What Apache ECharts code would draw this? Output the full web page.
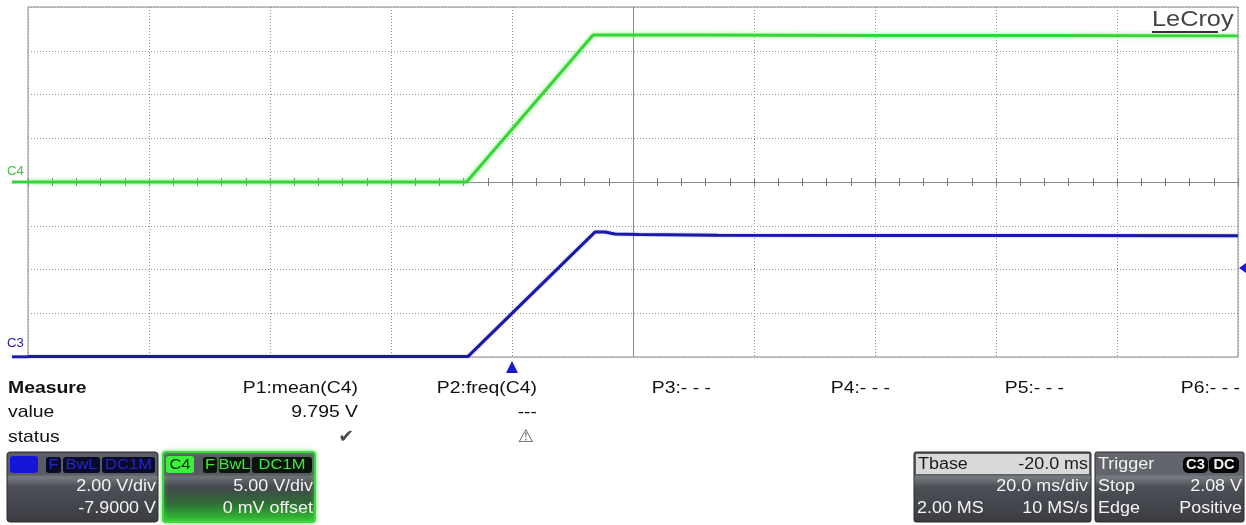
<!DOCTYPE html>
<html>
<head>
<meta charset="utf-8">
<script src="https://cdn.jsdelivr.net/npm/echarts@6/dist/echarts.min.js"></script>
<style>
html,body{margin:0;padding:0;background:#fff;}
#chart{width:1246px;height:525px;}
</style>
</head>
<body>
<div id="chart"></div>
<script>
// ---- data ----
// time in ms relative to the trigger point (20 ms/div, 10 divisions)
const c4Time  = [-80, -7.5, 13.4, 30, 60, 90, 120];
const c4Volts = [0.0, 0.0, 16.8, 16.8, 16.75, 16.75, 16.7];
const c3Time  = [-80, -7.3, 13.7, 15.4, 17.0, 21.0, 34.0, 60, 90, 120];
const c3Volts = [-0.08, -0.08, 5.61, 5.61, 5.52, 5.50, 5.47, 5.45, 5.45, 5.44];

const timeMin = -80, timeMax = 120, timeDiv = 20, timeMinorDiv = 4;
const c4Min = -20, c4Max = 20, c4Div = 5;          // 5.00 V/div, 0 mV offset
const c3Min = -0.1, c3Max = 15.9;                   // 2.00 V/div, -7.9 V offset
const centerTime = 20;

const measureRowLabels = ['Measure', 'value', 'status'];
const paramNames  = ['P1:mean(C4)', 'P2:freq(C4)', 'P3:- - -', 'P4:- - -', 'P5:- - -', 'P6:- - -'];
const paramValues = ['9.795 V', '---', '', '', '', ''];
const paramStatus = ['\u2714', '\u26A0', '', '', '', ''];

const c3Box = {badge: 'C3', flags: ['F', 'BwL', 'DC1M'], line1: '2.00 V/div', line2: '-7.9000 V'};
const c4Box = {badge: 'C4', flags: ['F', 'BwL', 'DC1M'], line1: '5.00 V/div', line2: '0 mV offset'};
const tbaseBox = {title: 'Tbase', titleVal: '-20.0 ms', r1l: '', r1r: '20.0 ms/div', r2l: '2.00 MS', r2r: '10 MS/s'};
const trigBox = {title: 'Trigger', badges: ['C3', 'DC'], r1l: 'Stop', r1r: '2.08 V', r2l: 'Edge', r2r: 'Positive'};

// ---- chart ----
const chart = echarts.init(document.getElementById('chart'), null, {renderer: 'canvas'});
const GRIDC = '#959595';
const SX = 1.14;
const FONT = '"Liberation Sans", Arial, sans-serif';

function pairs(xs, ys) { return xs.map((x, i) => [x, ys[i]]); }

const option = {
  animation: false,
  backgroundColor: '#ffffff',
  grid: {left: 28, top: 7, right: 8, bottom: 168, show: true, borderColor: '#8a8a8a', borderWidth: 1, backgroundColor: '#ffffff'},
  xAxis: [
    {type: 'value', min: timeMin, max: timeMax, interval: timeDiv, position: 'bottom',
     axisLine: {show: false}, axisTick: {show: false}, axisLabel: {show: false},
     splitLine: {show: true, lineStyle: {color: GRIDC, type: [1, 2], width: 1}}},
    {type: 'value', min: timeMin, max: timeMax, interval: timeMinorDiv, position: 'bottom',
     axisLine: {show: true, onZero: true, onZeroAxisIndex: 0, lineStyle: {color: '#8a8a8a', width: 1}},
     axisTick: {show: true, inside: true, length: 4, lineStyle: {color: '#7a7a7a'}},
     axisLabel: {show: false}, splitLine: {show: false}},
    {type: 'value', min: timeMin, max: timeMax, interval: timeMinorDiv, position: 'bottom',
     axisLine: {show: true, onZero: true, onZeroAxisIndex: 0, lineStyle: {color: '#8a8a8a', width: 1}},
     axisTick: {show: true, inside: false, length: 4, lineStyle: {color: '#7a7a7a'}},
     axisLabel: {show: false}, splitLine: {show: false}}
  ],
  yAxis: [
    {type: 'value', min: c4Min, max: c4Max, interval: c4Div,
     axisLine: {show: false}, axisTick: {show: false}, axisLabel: {show: false},
     splitLine: {show: true, lineStyle: {color: GRIDC, type: [1, 2], width: 1}}},
    {type: 'value', min: c3Min, max: c3Max, show: false, splitLine: {show: false}}
  ],
  series: [
    {name: 'C4', type: 'line', xAxisIndex: 0, yAxisIndex: 0, data: pairs(c4Time, c4Volts),
     symbol: 'none', clip: false, z: 5,
     lineStyle: {color: '#33d633', width: 3, shadowColor: 'rgba(120,240,120,0.9)', shadowBlur: 4},
     markLine: {silent: true, symbol: 'none', label: {show: false}, animation: false,
       lineStyle: {color: '#8a8a8a', type: 'solid', width: 1},
       data: [{xAxis: centerTime}]}},
    {name: 'C3', type: 'line', xAxisIndex: 0, yAxisIndex: 1, data: pairs(c3Time, c3Volts),
     symbol: 'none', clip: false, z: 5,
     lineStyle: {color: '#1a1aa6', width: 3, shadowColor: 'rgba(60,60,200,0.45)', shadowBlur: 2}}
  ]
};
chart.setOption(option);

// ---- helpers for graphic overlay ----
function txt(x, y, text, opts) {
  opts = opts || {};
  const align = opts.align || 'left';
  return {type: 'text', x: x, y: y, scaleX: opts.sx || SX, z: 100,
    style: {text: text, fill: opts.color || '#111', font: (opts.weight || 'normal') + ' ' + (opts.size || 17) + 'px ' + (opts.family || FONT),
      textAlign: align, align: align, textVerticalAlign: 'middle', verticalAlign: 'middle'}};
}
function rect(x, y, w, h, fill, opts) {
  opts = opts || {};
  return {type: 'rect', z: opts.z || 90, shape: {x: x, y: y, width: w, height: h, r: opts.r || 0},
    style: {fill: fill, stroke: opts.stroke || null, lineWidth: opts.lw || 0,
      shadowBlur: opts.shadowBlur || 0, shadowColor: opts.shadowColor || 'transparent'}};
}
function vgrad(stops) {
  return {type: 'linear', x: 0, y: 0, x2: 0, y2: 1, colorStops: stops.map(s => ({offset: s[0], color: s[1]}))};
}

const g = [];
// channel zero markers and trigger markers via scales
const yC4zero = chart.convertToPixel({yAxisIndex: 0}, 0);
const yC3zero = chart.convertToPixel({yAxisIndex: 1}, 0);
const xTrig = chart.convertToPixel({xAxisIndex: 0}, 0);
const gridBottom = chart.convertToPixel({yAxisIndex: 0}, c4Min);
const gridRight = chart.convertToPixel({xAxisIndex: 0}, timeMax);

g.push(txt(7, yC4zero - 10, 'C4', {color: '#3cc03c', size: 12, sx: 1.1}));
g.push(rect(12, yC4zero - 1.5, 16, 3, '#35d435'));
g.push(txt(7, yC3zero - 11, 'C3', {color: '#1c1cae', size: 12, sx: 1.1}));
g.push(rect(12, yC3zero + 0.5, 16, 3, '#1c1cae'));
g.push({type: 'polygon', z: 95, shape: {points: [[xTrig, gridBottom + 4], [xTrig - 6, gridBottom + 16], [xTrig + 6, gridBottom + 16]]}, style: {fill: '#1a1ad0'}});
g.push({type: 'polygon', z: 95, shape: {points: [[gridRight + 1, 268], [1246, 263], [1246, 273]]}, style: {fill: '#1a1ad0'}});

// LeCroy logo
g.push(txt(1152, 20, 'LeCroy', {color: '#444444', size: 22, sx: 1.15}));
g.push(rect(1152, 31, 66, 2, '#333333', {z: 101}));

// measurement table
const rowY = [388, 412, 437];
g.push(txt(8, rowY[0], measureRowLabels[0], {weight: 'bold', color: '#111'}));
g.push(txt(8, rowY[1], measureRowLabels[1], {color: '#111'}));
g.push(txt(8, rowY[2], measureRowLabels[2], {color: '#111'}));
const colRight = [358, 537, 711, 890, 1064, 1240];
paramNames.forEach((n, i) => {
  g.push(txt(colRight[i], rowY[0], n, {align: 'right', color: '#111'}));
  if (paramValues[i]) g.push(txt(colRight[i], rowY[1], paramValues[i], {align: 'right', color: '#111'}));
});
g.push(txt(354, rowY[2], paramStatus[0], {align: 'right', color: '#4a4a4a', size: 18, family: '"DejaVu Sans"', sx: 1.05}));
g.push(txt(534, rowY[2], paramStatus[1], {align: 'right', color: '#555', size: 18, family: '"DejaVu Sans"', sx: 1.0}));

// channel boxes
function channelBox(x, w, box, isC4) {
  const y = 452, h = 70;
  const bodyFill = isC4
    ? vgrad([[0, '#56595f'], [0.32, '#56595f'], [0.36, '#6d7076'], [0.5, '#44474e'], [0.72, '#2f6a35'], [1, '#33cc33']])
    : vgrad([[0, '#5a5d64'], [0.32, '#5a5d64'], [0.36, '#777a81'], [0.5, '#4c4f56'], [1, '#3a3c42']]);
  g.push(rect(x, y, w, h, bodyFill, {r: 3, stroke: isC4 ? '#3fd63f' : '#2a2a2a', lw: isC4 ? 2 : 1,
    shadowBlur: isC4 ? 4 : 0, shadowColor: isC4 ? 'rgba(80,230,80,0.8)' : 'transparent'}));
  const badgeFill = isC4 ? '#3df03d' : '#1515dd';
  const badgeText = isC4 ? '#0b2a0b' : '#1a1ac0';
  const flagText = isC4 ? '#3ee83e' : '#2424c8';
  const flagFill = isC4 ? '#0a140a' : '#0a0a2a';
  g.push(rect(x + 3, y + 4, 28, 17, badgeFill, {r: 3, z: 92}));
  g.push(txt(x + 17, y + 12.5, box.badge, {align: 'center', color: badgeText, size: 15, sx: 1.1}));
  const flagX = isC4 ? [x + 40, x + 56, x + 89] : [x + 39, x + 56, x + 95];
  const flagW = isC4 ? [14, 31, 60] : [15, 37, 53];
  box.flags.forEach((f, i) => {
    g.push(rect(flagX[i], y + 5, flagW[i], 16, flagFill, {r: 3, z: 92}));
    g.push(txt(flagX[i] + flagW[i] / 2, y + 13, f, {align: 'center', color: flagText, size: 15, sx: 1.1}));
  });
  g.push(txt(x + w - 2, 487, box.line1, {align: 'right', color: '#f4f4f4', size: 16, sx: 1.12}));
  g.push(txt(x + w - 2, 509, box.line2, {align: 'right', color: '#f4f4f4', size: 16, sx: 1.12}));
}
channelBox(7, 151, c3Box, false);
channelBox(163, 152, c4Box, true);

// timebase box
(function () {
  const x = 914, y = 452, w = 177, h = 70;
  g.push(rect(x, y, w, h, vgrad([[0, '#5a5d64'], [0.32, '#5a5d64'], [0.36, '#777a81'], [0.5, '#4c4f56'], [1, '#3a3c42']]), {r: 2, stroke: '#2a2a2a', lw: 1}));
  g.push(rect(x + 2, y + 2, w - 4, 20, '#d9d9d9', {z: 91}));
  g.push(txt(x + 4, y + 12.5, tbaseBox.title, {color: '#1a1a1a', size: 16, sx: 1.12}));
  g.push(txt(x + w - 3, y + 12.5, tbaseBox.titleVal, {align: 'right', color: '#1a1a1a', size: 16, sx: 1.12}));
  g.push(txt(x + w - 3, 487, tbaseBox.r1r, {align: 'right', color: '#f4f4f4', size: 16, sx: 1.12}));
  g.push(txt(x + 3, 509, tbaseBox.r2l, {color: '#f4f4f4', size: 16, sx: 1.12}));
  g.push(txt(x + w - 3, 509, tbaseBox.r2r, {align: 'right', color: '#f4f4f4', size: 16, sx: 1.12}));
})();

// trigger box
(function () {
  const x = 1095, y = 452, w = 149, h = 70;
  g.push(rect(x, y, w, h, vgrad([[0, '#62656c'], [0.32, '#62656c'], [0.36, '#777a81'], [0.5, '#4c4f56'], [1, '#3a3c42']]), {r: 2, stroke: '#2a2a2a', lw: 1}));
  g.push(txt(x + 3, y + 12.5, trigBox.title, {color: '#f2f2f2', size: 16, sx: 1.12}));
  const bx = [x + 88, x + 114], bw = [25, 30];
  trigBox.badges.forEach((b, i) => {
    g.push(rect(bx[i], y + 5, bw[i], 16, '#050505', {r: 5, z: 92}));
    g.push(txt(bx[i] + bw[i] / 2, y + 13, b, {align: 'center', color: '#f0f0f0', size: 14, weight: 'bold', sx: 1.05}));
  });
  g.push(txt(x + 3, 487, trigBox.r1l, {color: '#f4f4f4', size: 16, sx: 1.12}));
  g.push(txt(x + w - 2, 487, trigBox.r1r, {align: 'right', color: '#f4f4f4', size: 16, sx: 1.12}));
  g.push(txt(x + 3, 509, trigBox.r2l, {color: '#f4f4f4', size: 16, sx: 1.12}));
  g.push(txt(x + w - 2, 509, trigBox.r2r, {align: 'right', color: '#f4f4f4', size: 16, sx: 1.12}));
})();

chart.setOption({graphic: {elements: g}});
</script>
</body>
</html>
